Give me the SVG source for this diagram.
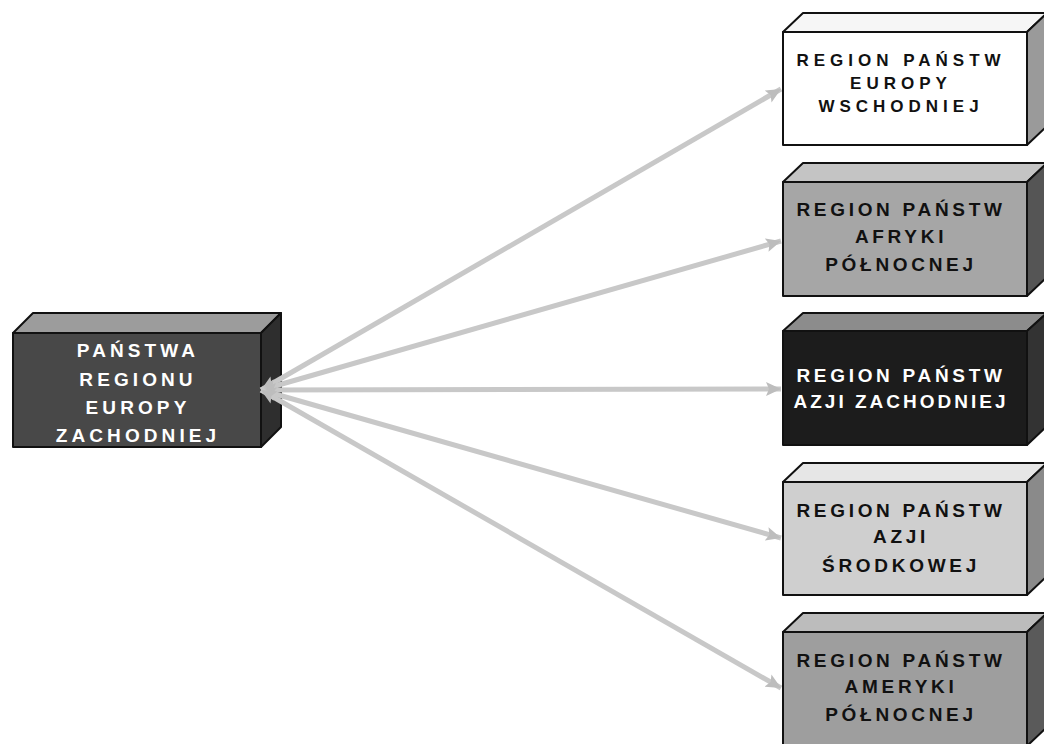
<svg xmlns="http://www.w3.org/2000/svg" width="1044" height="744" viewBox="0 0 1044 744">
<style>
.edge{stroke:#c8c8c8;stroke-width:5;fill:none;marker-start:url(#ah);marker-end:url(#ah)}
.o{stroke:#111;stroke-width:2;stroke-linejoin:round}
.t{font-family:"Liberation Sans",Arial,sans-serif;font-weight:bold;font-size:19px;letter-spacing:3.7px;text-anchor:middle}
.w{fill:#fff}.b{fill:#111}
</style>
<defs>
<marker id="ah" viewBox="0 0 15 14" refX="15" refY="7" markerWidth="15" markerHeight="14" markerUnits="userSpaceOnUse" orient="auto-start-reverse">
<path d="M0,0 L15,7 L0,14 L3,7 Z" fill="#bdbdbd"/>
</marker>
</defs>
<rect width="1044" height="744" fill="#fff"/>
<g id="center">
<polygon class="o" points="13,333 33,313 281,313 261,333" fill="#9c9c9c"/>
<polygon class="o" points="261,333 281,313 281,427 261,447" fill="#2e2e2e"/>
<rect class="o" x="13" y="333" width="248" height="114" fill="#484848"/>
<text class="t w" x="138" y="357" style="letter-spacing:4.1px">PAŃSTWA</text>
<text class="t w" x="138" y="386" style="letter-spacing:4.1px">REGIONU</text>
<text class="t w" x="138" y="414" style="letter-spacing:4.1px">EUROPY</text>
<text class="t w" x="138" y="442" style="letter-spacing:4.1px">ZACHODNIEJ</text>
</g>
<g id="connectors">
<line class="edge" x1="261" y1="390" x2="781" y2="89"/>
<line class="edge" x1="261" y1="390" x2="781" y2="241"/>
<line class="edge" x1="261" y1="390" x2="781" y2="389"/>
<line class="edge" x1="261" y1="390" x2="781" y2="538"/>
<line class="edge" x1="261" y1="390" x2="781" y2="688"/>
</g>
<g id="box1">
<polygon class="o" points="783,32 803,13 1047,13 1027,32" fill="#f6f6f6"/>
<polygon class="o" points="1027,32 1047,13 1047,126 1027,145" fill="#9a9a9a"/>
<rect class="o" x="783" y="32" width="244" height="113" fill="#fff"/>
<text class="t b" x="901" y="66" style="font-size:17px;letter-spacing:5px">REGION PAŃSTW</text>
<text class="t b" x="901" y="89" style="font-size:17px;letter-spacing:5px">EUROPY</text>
<text class="t b" x="901" y="112" style="font-size:17px;letter-spacing:5px">WSCHODNIEJ</text>
</g>
<g id="box2">
<polygon class="o" points="783,182 803,163 1047,163 1027,182" fill="#c4c4c4"/>
<polygon class="o" points="1027,182 1047,163 1047,277 1027,296" fill="#555"/>
<rect class="o" x="783" y="182" width="244" height="114" fill="#a6a6a6"/>
<text class="t b" x="901" y="216">REGION PAŃSTW</text>
<text class="t b" x="901" y="243">AFRYKI</text>
<text class="t b" x="901" y="271">PÓŁNOCNEJ</text>
</g>
<g id="box3">
<polygon class="o" points="783,331 803,313 1047,313 1027,331" fill="#8c8c8c"/>
<polygon class="o" points="1027,331 1047,313 1047,426 1027,445" fill="#333"/>
<rect class="o" x="783" y="331" width="244" height="114" fill="#1c1c1c"/>
<text class="t w" x="901" y="382">REGION PAŃSTW</text>
<text class="t w" x="901" y="408" style="letter-spacing:3px">AZJI ZACHODNIEJ</text>
</g>
<g id="box4">
<polygon class="o" points="783,482 803,463 1047,463 1027,482" fill="#e6e6e6"/>
<polygon class="o" points="1027,482 1047,463 1047,576 1027,595" fill="#8a8a8a"/>
<rect class="o" x="783" y="482" width="244" height="113" fill="#cfcfcf"/>
<text class="t b" x="901" y="517">REGION PAŃSTW</text>
<text class="t b" x="901" y="543">AZJI</text>
<text class="t b" x="901" y="572">ŚRODKOWEJ</text>
</g>
<g id="box5">
<polygon class="o" points="783,632 803,613 1047,613 1027,632" fill="#bcbcbc"/>
<polygon class="o" points="1027,632 1047,613 1047,727 1027,746" fill="#5a5a5a"/>
<rect class="o" x="783" y="632" width="244" height="114" fill="#9e9e9e"/>
<text class="t b" x="901" y="667">REGION PAŃSTW</text>
<text class="t b" x="901" y="693">AMERYKI</text>
<text class="t b" x="901" y="721">PÓŁNOCNEJ</text>
</g>
</svg>
